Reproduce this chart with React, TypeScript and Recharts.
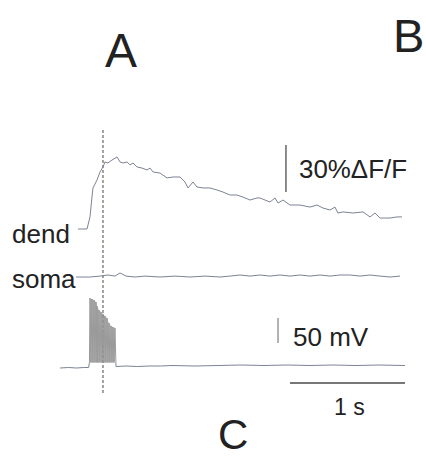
import React from 'react';
import { ComposedChart, Line, Area, XAxis, YAxis, ReferenceLine } from 'recharts';

// time in ms, 0 = stimulus onset (dashed line)
// dendritic Ca2+ signal, %ΔF/F
const dendTime = [-217, -139, -113, -96, -87, -52, -26, 0, 17, 43, 78, 122, 148, 174, 209, 235, 261, 296, 339, 383, 409, 435, 496, 557, 609, 670, 713, 739, 783, 817, 870, 930, 991, 1043, 1104, 1165, 1217, 1278, 1339, 1365, 1452, 1496, 1522, 1565, 1626, 1713, 1800, 1861, 1913, 1974, 2017, 2043, 2087, 2174, 2261, 2322, 2365, 2409, 2496, 2557, 2600];
const dendValue = [0, 0, 7.7, 20.4, 26.2, 31.3, 36.4, 39.6, 42.8, 42.1, 44.0, 46.0, 42.8, 42.1, 42.8, 40.9, 42.1, 39.6, 38.9, 37.7, 38.9, 36.4, 35.7, 32.6, 33.2, 33.2, 30.0, 26.2, 30.0, 26.8, 26.2, 26.2, 24.9, 23.6, 21.7, 21.7, 20.4, 18.5, 19.8, 19.8, 17.2, 19.8, 16.6, 18.5, 15.3, 15.3, 14.0, 15.3, 13.4, 12.1, 14.0, 10.2, 10.9, 10.2, 10.9, 7.7, 10.2, 7.0, 7.0, 7.7, 7.7];

// somatic Ca2+ signal, %ΔF/F
const somaTime = [-235, -113, -26, 43, 104, 148, 200, 278, 365, 496, 626, 757, 887, 1017, 1104, 1191, 1278, 1365, 1452, 1539, 1626, 1713, 1800, 1887, 1974, 2061, 2148, 2235, 2322, 2409, 2496, 2583];
const somaValue = [0, 0, 0.6, 1.3, 0.6, 2.6, 0.6, 0, 0.6, 0, 0.6, 0, 0.6, 0, 0.6, 1.3, 0.6, 1.3, 0.6, 1.3, 0.6, 1.3, 0.6, 1.3, 0.6, 1.3, 1.3, 0.6, 1.3, 0.6, 0, 0.6];

// membrane potential, mV
const vmPreTime = [-374, -300, -230, -170, -125];
const vmPreValue = [-69, -68, -69, -68, -68];
const spikeTime = [-113, -96, -78, -61, -52, -35, -17, 0, 17, 35, 52, 70, 87, 104];
const spikePeak = [71, 69, 67, 63, 55, 47, 43, 39, 35, 31, 21, 15, 13, 11];
const spikeTrough = -58;
const vmPostTime = [113, 200, 300, 400, 500, 600, 800, 1000, 1200, 1400, 1600, 1800, 2000, 2200, 2400, 2626];
const vmPostValue = [-66, -65, -66, -65, -65, -64, -65, -64, -63, -64, -63, -64, -63, -64, -63, -64];

// scale bars
const dffBar = { t: 1591, from: 23.6, to: 53.6 }; // 30 %ΔF/F
const mvBar = { t: 1522, from: -19, to: 31 }; // 50 mV
const timeBar = { from: 1626, to: 2626, v: -99 }; // 1 s
const stimLine = { t: 0, from: -119, to: 407 };

const dendData = dendTime.map((t, i) => ({ t, v: dendValue[i] }));
const somaData = somaTime.map((t, i) => ({ t, v: somaValue[i] }));
const vmPreData = [
  ...vmPreTime.map((t, i) => ({ t, v: vmPreValue[i] })),
  { t: -118, v: spikeTrough },
];
const burstData = [
  { t: -118, v: spikeTrough },
  ...spikeTime.flatMap((t, i) => [
    { t, v: spikePeak[i] },
    { t: t + 8, v: spikeTrough },
  ]),
];
const envelopeData = spikeTime.map((t, i) => ({ t, v: spikePeak[i] }));
const vmPostData = [
  { t: spikeTime[spikeTime.length - 1] + 8, v: spikeTrough },
  ...vmPostTime.map((t, i) => ({ t, v: vmPostValue[i] })),
];

const W = 426;
const H = 458;
const TRACE = '#7d8394';
const INK = '#222';

if (typeof document !== 'undefined') document.body.style.margin = '0';

const lineProps = {
  type: 'linear' as const,
  dataKey: 'v',
  dot: false,
  activeDot: false,
  strokeWidth: 1,
  isAnimationActive: false,
};

export default function App() {
  return (
    <div style={{ position: 'relative', width: W, height: H, background: '#fff' }}>
      <ComposedChart width={W} height={H} margin={{ top: 0, right: 0, bottom: 0, left: 0 }}>
        <XAxis dataKey="t" type="number" domain={[-895.65, 2808.7]} allowDataOverflow hide />
        <YAxis yAxisId="dend" type="number" domain={[-146.17, 146.17]} allowDataOverflow hide />
        <YAxis yAxisId="soma" type="number" domain={[-115.5, 176.8]} allowDataOverflow hide />
        <YAxis yAxisId="vm" type="number" domain={[-249, 667]} allowDataOverflow hide />

        <Area
          yAxisId="vm"
          data={envelopeData}
          dataKey="v"
          type="linear"
          baseValue={spikeTrough}
          stroke="none"
          fill="#bdbdbd"
          fillOpacity={1}
          dot={false}
          activeDot={false}
          isAnimationActive={false}
        />

        <ReferenceLine
          yAxisId="vm"
          segment={[{ x: stimLine.t, y: stimLine.from }, { x: stimLine.t, y: stimLine.to }]}
          stroke="#4a4a3a"
          strokeDasharray="3 2"
          strokeWidth={1}
        />

        <Line yAxisId="dend" data={dendData} stroke={TRACE} {...lineProps} />
        <Line yAxisId="soma" data={somaData} stroke={TRACE} {...lineProps} />
        <Line yAxisId="vm" data={vmPreData} stroke={TRACE} {...lineProps} />
        <Line yAxisId="vm" data={burstData} stroke="#9a9a9a" {...lineProps} />
        <Line yAxisId="vm" data={vmPostData} stroke={TRACE} {...lineProps} />

        <ReferenceLine
          yAxisId="dend"
          segment={[{ x: dffBar.t, y: dffBar.from }, { x: dffBar.t, y: dffBar.to }]}
          stroke="#666"
          strokeWidth={1.5}
        />
        <ReferenceLine
          yAxisId="vm"
          segment={[{ x: mvBar.t, y: mvBar.from }, { x: mvBar.t, y: mvBar.to }]}
          stroke="#999"
          strokeWidth={1.5}
        />
        <ReferenceLine
          yAxisId="vm"
          segment={[{ x: timeBar.from, y: timeBar.v }, { x: timeBar.to, y: timeBar.v }]}
          stroke="#777"
          strokeWidth={2}
        />
      </ComposedChart>

      <svg
        width={W}
        height={H}
        style={{ position: 'absolute', left: 0, top: 0, pointerEvents: 'none' }}
        fontFamily="'Liberation Sans', Arial, sans-serif"
        fill={INK}
      >
        <text x={105} y={67} fontSize={48}>A</text>
        <text x={393} y={52} fontSize={47}>B</text>
        <text x={218} y={449} fontSize={42}>C</text>
        <text x={12} y={243} fontSize={26}>dend</text>
        <text x={12} y={288} fontSize={26}>soma</text>
        <text x={299} y={178} fontSize={25} textLength={108} lengthAdjust="spacingAndGlyphs">30%ΔF/F</text>
        <text x={293} y={346} fontSize={26}>50 mV</text>
        <text x={334} y={415} fontSize={23}>1 s</text>
      </svg>
    </div>
  );
}
